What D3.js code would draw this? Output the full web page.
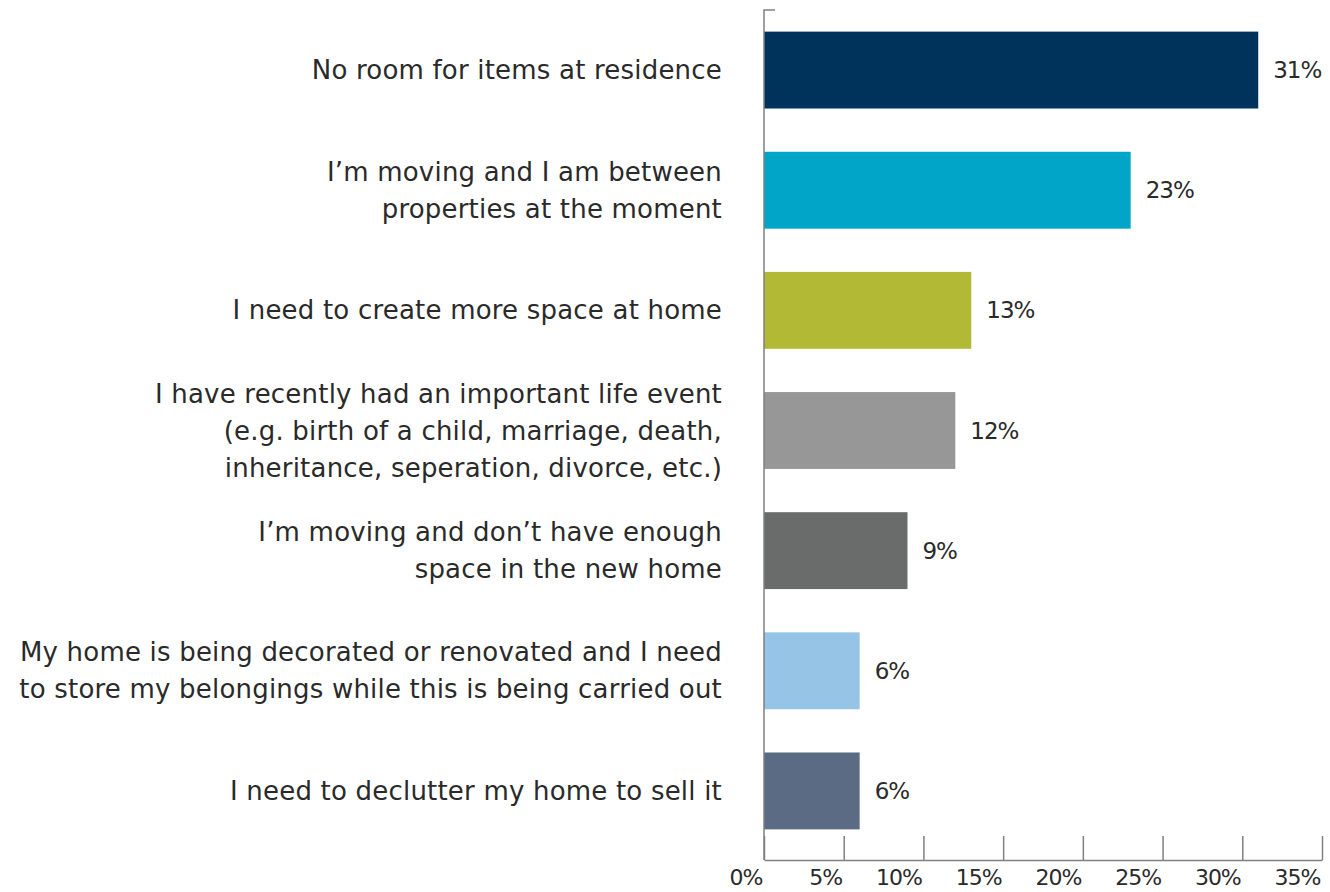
<!DOCTYPE html>
<html>
<head>
<meta charset="utf-8">
<script src="https://cdn.jsdelivr.net/npm/d3@7"></script>
<style>
body { margin: 0; background: #fff; }
svg text { font-family: "DejaVu Sans", sans-serif; fill: #2a2a2a; }
</style>
</head>
<body>
<svg id="chart"></svg>
<script>
WIDTH = 1330;
HEIGHT = 892;

// one entry per bar, lines of the category label
var categories = [
    ["No room for items at residence"],
    ["I\u2019m moving and I am between", "properties at the moment"],
    ["I need to create more space at home"],
    ["I have recently had an important life event", "(e.g. birth of a child, marriage, death,", "inheritance, seperation, divorce, etc.)"],
    ["I\u2019m moving and don\u2019t have enough", "space in the new home"],
    ["My home is being decorated or renovated and I need", "to store my belongings while this is being carried out"],
    ["I need to declutter my home to sell it"]
];
var values = [31, 23, 13, 12, 9, 6, 6];
var colors = ["#00335b", "#00a5c8", "#b2ba35", "#979797", "#6a6c6b", "#95c4e6", "#5b6b83"];
var ticks = [0, 5, 10, 15, 20, 25, 30, 35];

function buildChart() {
    var svg = d3.select("#chart").attr("width", WIDTH).attr("height", HEIGHT);

    var x = d3.scaleLinear().domain([0, 35]).range([764, 1322]);
    var y = d3.scaleBand()
        .domain(d3.range(values.length))
        .range([10, 851])
        .paddingInner(0.36)
        .paddingOuter(0.18);
    var axisY = 860;

    // bars
    svg.selectAll(".bar")
        .data(values)
        .enter().append("rect")
        .attr("class", "bar")
        .attr("x", x(0))
        .attr("y", function(d, i) { return y(i); })
        .attr("width", function(d) { return x(d) - x(0); })
        .attr("height", y.bandwidth())
        .attr("fill", function(d, i) { return colors[i]; });

    // value labels
    svg.selectAll(".val")
        .data(values)
        .enter().append("text")
        .attr("class", "val")
        .attr("x", function(d) { return x(d) + 15; })
        .attr("y", function(d, i) { return y(i) + y.bandwidth() / 2; })
        .attr("dy", "0.35em")
        .attr("font-size", 23)
        .attr("letter-spacing", -1)
        .text(function(d) { return d + "%"; });

    // category labels
    var lineH = 37;
    svg.selectAll(".cat")
        .data(categories)
        .enter().append("text")
        .attr("class", "cat")
        .attr("text-anchor", "end")
        .attr("font-size", 26)
        .attr("letter-spacing", 0.2)
        .each(function(lines, i) {
            var cy = y(i) + y.bandwidth() / 2 - (lines.length - 1) * lineH / 2;
            d3.select(this).selectAll("tspan")
                .data(lines)
                .enter().append("tspan")
                .attr("x", 722)
                .attr("y", function(l, j) { return cy + j * lineH; })
                .attr("dy", "0.35em")
                .text(function(l) { return l; });
        });

    // y axis line with a small cap at the top
    svg.append("path")
        .attr("d", "M" + (x(0) + 11) + ",10H" + x(0) + "V" + axisY)
        .attr("fill", "none")
        .attr("stroke", "#808080")
        .attr("stroke-width", 1.5);

    // x axis, ticks pointing up
    var xAxis = svg.append("g")
        .attr("transform", "translate(0," + axisY + ")")
        .call(d3.axisBottom(x).tickValues(ticks).tickSize(-24).tickSizeOuter(0)
            .tickFormat(function(d) { return d + "%"; }));
    xAxis.select(".domain").attr("stroke", "#808080").attr("stroke-width", 1.5);
    xAxis.selectAll(".tick line").attr("stroke", "#808080").attr("stroke-width", 1.5);
    xAxis.selectAll(".tick text")
        .attr("text-anchor", "end")
        .attr("x", -2)
        .attr("y", 9)
        .attr("dy", "0.71em")
        .attr("font-size", 22)
        .attr("letter-spacing", -1)
        .attr("font-family", "DejaVu Sans")
        .attr("fill", "#2a2a2a");
}

buildChart();
</script>
</body>
</html>
